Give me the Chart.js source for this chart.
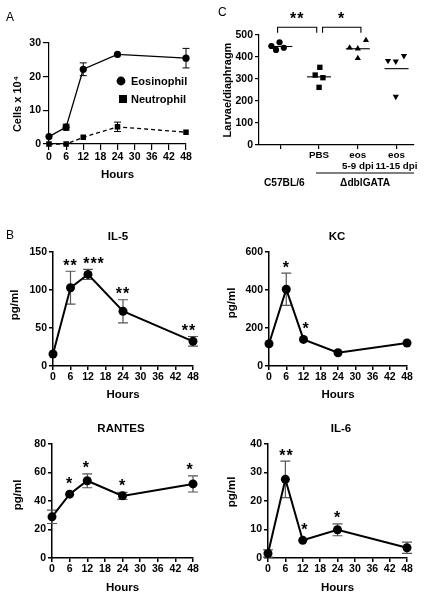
<!DOCTYPE html>
<html><head><meta charset="utf-8">
<script src="https://cdn.jsdelivr.net/npm/chart.js@4.4.1/dist/chart.umd.min.js"></script>
<style>
html,body{margin:0;padding:0;background:#fff;}
#wrap{position:relative;width:441px;height:600px;overflow:hidden;background:#fff;}
#wrap canvas{position:absolute;left:0;top:0;}
.plbl{position:absolute;font:12px/12px "Liberation Sans",Arial,sans-serif;color:#000;}
</style></head><body>
<div id="wrap">
 <canvas id="cA" width="441" height="600"></canvas>
 <canvas id="cC" width="441" height="600"></canvas>
 <canvas id="cIL5" width="441" height="600"></canvas>
 <canvas id="cKC" width="441" height="600"></canvas>
 <canvas id="cRANTES" width="441" height="600"></canvas>
 <canvas id="cIL6" width="441" height="600"></canvas>
 <div class="plbl" style="left:6px;top:11px">A</div>
 <div class="plbl" style="left:6px;top:229px">B</div>
 <div class="plbl" style="left:218px;top:6px">C</div>
</div>
<script>
// ---------------- DATA ----------------
const hours = [0, 6, 12, 24, 48];
const hourTicks = [0, 6, 12, 18, 24, 30, 36, 42, 48];

// Panel A (cells x 10^4)
const eosinophil = [2.2, 5.0, 22.2, 26.6, 25.5];
const eosinophilSem = [0, 0.9, 1.9, 0, 2.9];
const neutrophil = [0, 0, 2.0, 5.1, 3.5];
const neutrophilSem = [0, 0, 0, 1.4, 0];

// Panel B (pg/ml)
const il5 = [15.8, 103, 120.5, 72, 32.5];
const il5Sem = [0, 21.7, 6.7, 15.2, 6.3];
const il5Stars = ['', '**', '***', '**', '**'];
const kc = [117, 404, 140, 70, 121];
const kcSem = [0, 85, 0, 0, 0];
const kcStars = ['', '*', '*', '', ''];
const rantes = [28.9, 44.8, 54.2, 43.6, 52];
const rantesSem = [4.7, 0, 4.9, 2.4, 5.7];
const rantesStars = ['', '*', '*', '*', '*'];
const il6 = [1.6, 27.6, 6.2, 9.9, 3.6];
const il6Sem = [1.3, 6.4, 0, 2.1, 2.0];
const il6Stars = ['', '**', '*', '*', ''];

// Panel C (larvae/diaphragm)
const cTickLabels = ['', 'PBS', ['eos', '5-9 dpi'], ['eos', '11-15 dpi']];
const cGroupLabels = ['C57BL/6', 'ΔdblGATA'];
const cC57 = [450, 432, 467, 442];
const cPBS = [353, 318, 306, 262];
const cEos59 = [442, 438, 476, 394];
const cEos1115 = [383, 380, 405, 220];
const cSignif = [[0, 1, '**'], [1, 2, '*']];
// horizontal spread of replicate points within a group (category units)
const cJitter = [[-0.23, -0.11, -0.02, 0.09], [0.02, -0.10, 0.10, 0], [-0.21, 0, 0.21, 0], [-0.22, -0.02, 0.19, -0.02]];

// ---------------- HELPERS ----------------
const F = '"Liberation Sans", Arial, Helvetica, sans-serif';
const W = 441, H = 600;
function fnt(size, extra) { return Object.assign({ family: F, size: size, weight: 'bold' }, extra || {}); }

function txt(ctx, s, x, y, size, o) {
  o = o || {};
  ctx.save();
  ctx.font = (o.weight || 'bold') + ' ' + size + 'px ' + F;
  ctx.fillStyle = o.color || '#000';
  ctx.textAlign = o.align || 'center';
  ctx.textBaseline = o.baseline || 'middle';
  if (o.spacing && 'letterSpacing' in ctx) ctx.letterSpacing = o.spacing;
  ctx.translate(x, y);
  if (o.rot) ctx.rotate(o.rot);
  ctx.fillText(s, 0, 0);
  ctx.restore();
}

function makePanel(id, p) {
  const mkGrid = () => ({ display: true, drawOnChartArea: false, drawTicks: true, tickLength: p.tl, color: '#000', lineWidth: p.bw, tickWidth: p.bw, tickColor: '#000' });
  const mkBorder = () => ({ display: true, color: '#000', width: p.bw });
  return new Chart(document.getElementById(id), {
    type: 'scatter',
    data: { datasets: p.datasets },
    options: {
      responsive: false, maintainAspectRatio: false, animation: false, events: [],
      layout: { padding: { left: p.L - p.yw, top: p.T, right: W - p.R, bottom: H - p.B - p.xh } },
      plugins: { legend: { display: false }, tooltip: { enabled: false }, title: { display: false } },
      scales: {
        x: {
          type: 'linear', position: 'bottom', min: p.xmin, max: p.xmax,
          afterBuildTicks: s => { s.ticks = p.xticks.map(v => ({ value: v })); },
          afterFit: s => { s.height = p.xh; },
          grid: mkGrid(), border: mkBorder(),
          ticks: { font: fnt(p.xfs || p.fs, { lineHeight: 1.12 }), color: '#000', padding: p.xpad, maxRotation: 0, autoSkip: false,
                   callback: p.xcb || (v => String(v)) }
        },
        y: {
          type: 'linear', position: 'left', min: 0, max: p.ymax,
          afterFit: s => { s.width = p.yw; },
          grid: mkGrid(), border: mkBorder(),
          ticks: { font: fnt(p.fs), color: '#000', padding: p.ypad, stepSize: p.ystep, callback: v => String(v) }
        }
      }
    },
    plugins: [{
      id: 'decor',
      beforeDatasetsDraw: c => { if (p.before) p.before(c); },
      afterDatasetsDraw: c => { if (p.after) p.after(c); }
    }]
  });
}

function lineSeries(vals, o) {
  return Object.assign({
    data: hours.map((h, i) => ({ x: h, y: vals[i] })),
    showLine: true, borderColor: '#000', backgroundColor: '#000',
    pointBackgroundColor: '#000', pointBorderColor: '#000', pointBorderWidth: 0,
    pointRadius: 4.5, pointStyle: 'circle', borderWidth: 2, clip: false, tension: 0
  }, o || {});
}

function errBars(c, vals, sem, color, cap, lw) {
  const xs = c.scales.x, ys = c.scales.y, ctx = c.ctx;
  ctx.save(); ctx.strokeStyle = color; ctx.lineWidth = lw;
  hours.forEach((h, i) => {
    if (!sem[i]) return;
    const x = xs.getPixelForValue(h);
    const y1 = ys.getPixelForValue(vals[i] + sem[i]);
    const y2 = ys.getPixelForValue(vals[i] - sem[i]);
    ctx.beginPath();
    ctx.moveTo(x, y1); ctx.lineTo(x, y2);
    ctx.moveTo(x - cap, y1); ctx.lineTo(x + cap, y1);
    ctx.moveTo(x - cap, y2); ctx.lineTo(x + cap, y2);
    ctx.stroke();
  });
  ctx.restore();
}

function starMarks(c, vals, sem, labels, r, nudge) {
  const xs = c.scales.x, ys = c.scales.y, ctx = c.ctx;
  labels.forEach((s, i) => {
    if (!s) return;
    const x = xs.getPixelForValue(hours[i]) + (nudge ? nudge[i] : 0);
    const top = Math.min(ys.getPixelForValue(vals[i] + sem[i]), ys.getPixelForValue(vals[i]) - r);
    txt(ctx, s, x, top - 0.5, 16, { baseline: 'alphabetic', spacing: '1px' });
  });
}

// ---------------- PANEL A ----------------
makePanel('cA', {
  L: 49, R: 186, T: 43, B: 144, yw: 40, xh: 22, tl: 6, bw: 1.2, fs: 10.5, xpad: 1, ypad: 2,
  xmin: 0, xmax: 48, xticks: hourTicks, ymax: 30, ystep: 10,
  datasets: [
    lineSeries(eosinophil, { pointRadius: 3.6, borderWidth: 1.3 }),
    lineSeries(neutrophil, { pointRadius: 3.9, pointStyle: 'rect', borderWidth: 1.3, borderDash: [4, 3] })
  ],
  before: c => {
    errBars(c, eosinophil, eosinophilSem, '#000', 3.5, 1);
    errBars(c, neutrophil, neutrophilSem, '#000', 3.5, 1);
  },
  after: c => {
    const ctx = c.ctx, ca = c.chartArea;
    txt(ctx, 'Cells x 10\u2074', 18, 104, 11, { rot: -Math.PI / 2 });
    txt(ctx, 'Hours', (ca.left + ca.right) / 2, 175, 11.5);
    // legend
    ctx.save(); ctx.fillStyle = '#000';
    ctx.beginPath(); ctx.arc(121, 81, 4.4, 0, Math.PI * 2); ctx.fill();
    ctx.fillRect(119, 95, 8, 8);
    ctx.restore();
    txt(ctx, 'Eosinophil', 131, 81.5, 11, { align: 'left' });
    txt(ctx, 'Neutrophil', 131, 99.5, 11, { align: 'left' });
  }
});

// ---------------- PANEL C ----------------
const cSets = [cC57, cPBS, cEos59, cEos1115];
const cStyles = [
  { pointStyle: 'circle', pointRadius: 3.1, rotation: 0 },
  { pointStyle: 'rect', pointRadius: 3.8, rotation: 0 },
  { pointStyle: 'triangle', pointRadius: 3.6, rotation: 0 },
  { pointStyle: 'triangle', pointRadius: 3.6, rotation: 180 }
];
makePanel('cC', {
  L: 259, R: 414, T: 35, B: 145, yw: 40, xh: 30, tl: 4, bw: 1.2, fs: 10.5, xfs: 9.8, xpad: 1, ypad: 2,
  xmin: -0.55, xmax: 3.45, xticks: [0, 1, 2, 3], ymax: 500, ystep: 100,
  xcb: v => cTickLabels[Math.round(v)],
  datasets: cSets.map((vals, g) => ({
    data: vals.map((v, i) => ({ x: g + cJitter[g][i], y: v })),
    showLine: false, pointBackgroundColor: '#000', pointBorderColor: '#000', pointBorderWidth: 0,
    pointStyle: cStyles[g].pointStyle, pointRadius: cStyles[g].pointRadius, pointRotation: cStyles[g].rotation, clip: false
  })),
  after: c => {
    const ctx = c.ctx, xs = c.scales.x, ys = c.scales.y, ca = c.chartArea;
    // group means
    ctx.save(); ctx.strokeStyle = '#000'; ctx.lineWidth = 1.1;
    cSets.forEach((vals, g) => {
      const m = vals.reduce((a, b) => a + b, 0) / vals.length;
      const y = ys.getPixelForValue(m);
      ctx.beginPath(); ctx.moveTo(xs.getPixelForValue(g - 0.31), y); ctx.lineTo(xs.getPixelForValue(g + 0.31), y); ctx.stroke();
    });
    // significance brackets
    const yTop = ys.getPixelForValue(500) - 7.7, yEnd = ys.getPixelForValue(500) - 2.3;
    const shifts = [[-0.07, -0.06], [0.09, 0.08]];
    cSignif.forEach(([a, b, s], k) => {
      const x1 = xs.getPixelForValue(a + shifts[k][0]), x2 = xs.getPixelForValue(b + shifts[k][1]);
      ctx.beginPath(); ctx.moveTo(x1, yEnd); ctx.lineTo(x1, yTop); ctx.lineTo(x2, yTop); ctx.lineTo(x2, yEnd); ctx.stroke();
      txt(ctx, s, (x1 + x2) / 2, yTop - 3.5, 16, { baseline: 'alphabetic', spacing: '1px' });
    });
    // group underline + labels
    const uy = 173;
    ctx.lineWidth = 1.2;
    ctx.beginPath(); ctx.moveTo(xs.getPixelForValue(1) - 3, uy); ctx.lineTo(ca.right, uy); ctx.stroke();
    ctx.restore();
    txt(ctx, cGroupLabels[0], xs.getPixelForValue(0) + 4, 183.5, 10.2);
    txt(ctx, cGroupLabels[1], (xs.getPixelForValue(1) - 3 + ca.right) / 2, 183.5, 10.2);
    txt(ctx, 'Larvae/diaphragm', 228, 90, 11, { rot: -Math.PI / 2 });
  }
});

// ---------------- PANEL B ----------------
function cytoPanel(id, box, ymax, ystep, vals, sem, stars, nudge, title, titleX, titleY, yTitleX, yTitleY, hoursY) {
  makePanel(id, Object.assign({
    yw: 36, xh: 22, tl: 4, bw: 1.5, fs: 10.5, xpad: 1, ypad: 2,
    xmin: 0, xmax: 48, xticks: hourTicks, ymax: ymax, ystep: ystep,
    datasets: [lineSeries(vals, { pointRadius: 4.5, borderWidth: 2 })],
    before: c => errBars(c, vals, sem, '#555', 5, 1.2),
    after: c => {
      const ctx = c.ctx, ca = c.chartArea;
      starMarks(c, vals, sem, stars, 4.5, nudge);
      txt(ctx, title, titleX, titleY, 11.5);
      txt(ctx, 'pg/ml', yTitleX, yTitleY, 11.5, { rot: -Math.PI / 2 });
      txt(ctx, 'Hours', (ca.left + ca.right) / 2, hoursY, 11.5);
    }
  }, box));
}
cytoPanel('cIL5', { L: 53, R: 193, T: 252, B: 366 }, 150, 50, il5, il5Sem, il5Stars, [0, 0, 6, 0, -4], 'IL-5', 118, 237, 15, 305, 395);
cytoPanel('cKC', { L: 269, R: 407, T: 252, B: 366 }, 600, 200, kc, kcSem, kcStars, [0, 0, 2.5, 0, 0], 'KC', 337, 237, 232, 303, 395);
cytoPanel('cRANTES', { L: 52, R: 193, T: 444, B: 558 }, 80, 20, rantes, rantesSem, rantesStars, [0, 0, -1, 0, -3], 'RANTES', 121, 429, 18, 495, 588);
cytoPanel('cIL6', { L: 268, R: 407, T: 444, B: 558 }, 40, 10, il6, il6Sem, il6Stars, [0, 1, 2, 0, 0], 'IL-6', 341, 429, 232, 492, 588);
</script>
</body></html>
